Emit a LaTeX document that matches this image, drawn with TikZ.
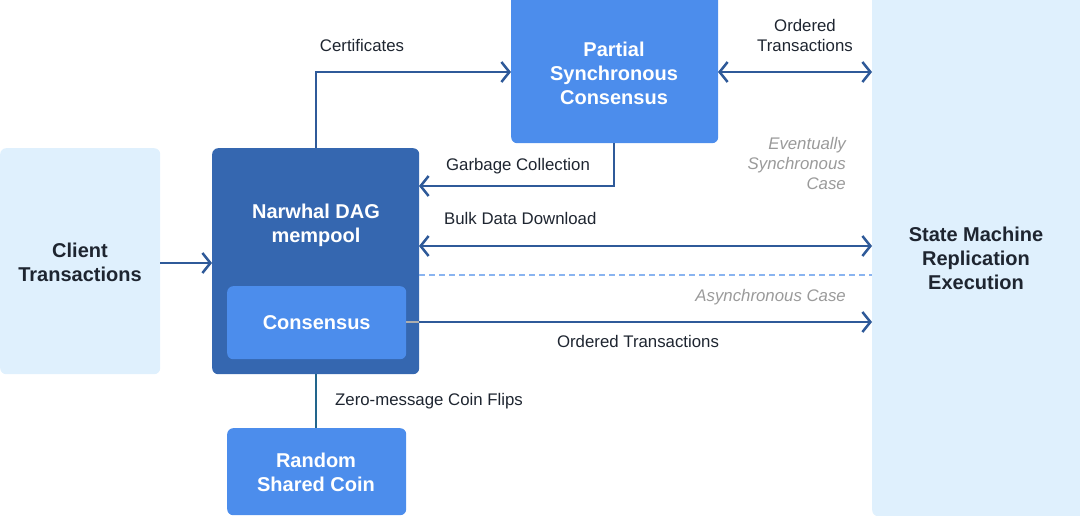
\documentclass[tikz,border=0pt]{standalone}
\usepackage{fontspec}
\setmainfont{Liberation Sans}
\usetikzlibrary{arrows.meta}
\definecolor{lightbox}{HTML}{DFF0FD}
\definecolor{darkbox}{HTML}{3567B0}
\definecolor{midbox}{HTML}{4C8DEC}
\definecolor{wire}{HTML}{2F5A99}
\definecolor{teal}{HTML}{22658C}
\definecolor{dashc}{HTML}{8AB4F0}
\definecolor{graytxt}{HTML}{9A9A9A}
\definecolor{labeltxt}{HTML}{1E2530}
\tikzset{
  box/.style={rectangle, rounded corners=6pt, inner sep=0pt, anchor=north west, align=center, font=\fontsize{20}{24}\selectfont\bfseries},
  lightstyle/.style={box, fill=lightbox, text=labeltxt},
  darkstyle/.style={box, fill=darkbox, text=white},
  midstyle/.style={box, fill=midbox, text=white},
  boxtext/.style={font=\fontsize{20}{24}\selectfont\bfseries, align=center},
  tip/.style={Straight Barb[length=8pt,width=20pt,line width=2.5pt]},
  conn/.style={draw=wire, line width=2.5pt, -{Straight Barb[length=8pt,width=20pt,line width=2.5pt]}},
  biconn/.style={draw=wire, line width=2.5pt, {Straight Barb[length=8pt,width=20pt,line width=2.5pt]}-{Straight Barb[length=8pt,width=20pt,line width=2.5pt]}},
  lbl/.style={font=\fontsize{16.8}{20}\selectfont, text=labeltxt, inner sep=0pt, align=center},
  note/.style={font=\fontsize{16.8}{20}\selectfont\itshape, text=graytxt, inner sep=0pt, align=right, anchor=east}
}
\begin{document}
\begin{tikzpicture}[x=1pt,y=-1pt]
\useasboundingbox (0,0) rectangle (1080,516);
% boxes
\node[lightstyle, minimum width=160pt, minimum height=226pt] (client) at (0,148) {};
\node[boxtext, text=labeltxt] (clientlabel) at (80,262) {Client\\Transactions};
\node[darkstyle, minimum width=207pt, minimum height=226pt] (narwhal) at (212,148) {};
\node[boxtext, text=white] (nlabel) at (316,225) {Narwhal DAG\\mempool};
\node[midstyle, minimum width=179pt, minimum height=73pt] (cons) at (227,286) {Consensus};
\node[midstyle, minimum width=207pt, minimum height=149pt] (psc) at (511,-6) {};
\node[boxtext, text=white] (psclabel) at (614,73) {Partial\\Synchronous\\Consensus};
\node[midstyle, minimum width=179pt, minimum height=87pt] (coin) at (227,428) {};
\node[boxtext, text=white] (coinlabel) at (316,472) {Random\\Shared Coin};
\node[lightstyle, minimum width=214pt, minimum height=522pt] (smr) at (872,-6) {};
\node[boxtext, text=labeltxt] (smrlabel) at (976,258) {State Machine\\Replication\\Execution};
% anchor coordinates
\coordinate (ctop) at (316,148);
\coordinate (cert) at (316,72);
\coordinate (pscw) at (511,72);
\coordinate (psce) at (718,72);
\coordinate (smr1) at (872,72);
\coordinate (pscb) at (614,143);
\coordinate (gcturn) at (614,186);
\coordinate (nwgc) at (419,186);
\coordinate (nwbulk) at (419,246);
\coordinate (smrbulk) at (872,246);
\coordinate (dash1) at (419,275);
\coordinate (dash2) at (872,275);
\coordinate (consE) at (406,322);
\coordinate (nwE) at (419,322);
\coordinate (smrot) at (872,322);
\coordinate (clientE) at (160,263);
\coordinate (nwW) at (212,263);
\coordinate (nwB) at (316,374);
\coordinate (coinT) at (316,428);
% connectors
\draw[conn] (clientE) -- (nwW);
\draw[conn] (ctop) -- (cert) -- (pscw);
\draw[conn] (pscb) -- (gcturn) -- (nwgc);
\draw[biconn] (psce) -- (smr1);
\draw[biconn] (nwbulk) -- (smrbulk);
\draw[dashc, line width=1.4pt, dash pattern=on 6pt off 4pt] (dash1) -- (dash2);
\draw[conn] (consE) -- (smrot);
\draw[draw=graytxt!80, line width=2.5pt] (consE) -- (nwE);
\draw[teal, line width=2.5pt] (nwB) -- (coinT);
% labels
\node[lbl] at (362,45) {Certificates};
\node[lbl] at (805,35) {Ordered\\Transactions};
\node[lbl] at (518,166) {Garbage Collection};
\node[lbl, anchor=west] at (444,218) {Bulk Data Download};
\node[lbl] at (638,341) {Ordered Transactions};
\node[lbl, anchor=west] at (335,401) {Zero-message Coin Flips};
\node[note] at (846,163) {Eventually\\Synchronous\\Case};
\node[note] at (846,297) {Asynchronous Case};
\end{tikzpicture}
\end{document}
